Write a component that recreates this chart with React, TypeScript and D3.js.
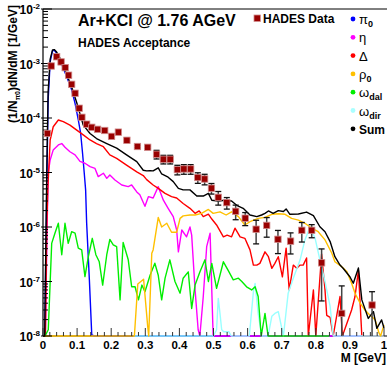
import React from 'react';
import * as d3 from 'd3';

const W = 387, H = 366;
const X0 = 43, X1 = 384, Y0 = 336, Y1 = 9;
const YMIN = 1e-8, YMAX = 1e-2;
const FONT = 'Liberation Sans, Arial, Helvetica, sans-serif';

// HADES data
const dataM = [0.013, 0.024, 0.040, 0.053, 0.065, 0.075, 0.084, 0.094, 0.106, 0.114, 0.128, 0.143, 0.160, 0.181, 0.201, 0.221, 0.246, 0.277, 0.307, 0.333, 0.353, 0.373, 0.394, 0.413, 0.433, 0.454, 0.474, 0.494, 0.514, 0.539, 0.565, 0.593, 0.625, 0.656, 0.689, 0.726, 0.759, 0.788, 0.817, 0.876, 0.965];
const dataV = [5.2e-5, 9.0e-4, 1.33e-3, 1.07e-3, 8.4e-4, 6.1e-4, 4.15e-4, 2.84e-4, 1.51e-4, 1.03e-4, 7.7e-5, 6.75e-5, 6.2e-5, 5.9e-5, 4.6e-5, 5.5e-5, 3.9e-5, 3.0e-5, 2.9e-5, 2.16e-5, 1.75e-5, 1.75e-5, 1.13e-5, 1.16e-5, 1.16e-5, 8.1e-6, 7.6e-6, 5.15e-6, 3.5e-6, 2.8e-6, 1.94e-6, 1.45e-6, 9.1e-7, 1.07e-6, 5.95e-7, 5.5e-7, 8.7e-7, 8.7e-7, 2.2e-7, 2.6e-8, 3.7e-8];
const dataE = [0, 0, 0, 0, 0, 0, 0, 0, 0, 0, 0, 0, 0, 0, 0, 0, 0, 1.5e-6, 1.45e-6, 3.9e-6, 3.15e-6, 3.15e-6, 2.26e-6, 2.32e-6, 2.32e-6, 1.78e-6, 1.67e-6, 1.13e-6, 9.8e-7, 6.7e-7, 5.8e-7, 3.9e-7, 4.2e-7, 4.2e-7, 2.7e-7, 2.3e-7, 3.4e-7, 2.35e-7, 1.76e-7, 5.7e-8, 2.8e-8];

// pi0
const pi0M = [0, 0.005, 0.011, 0.015, 0.021, 0.028, 0.033, 0.038, 0.050, 0.0695, 0.084, 0.094, 0.1035, 0.1105, 0.116, 0.121, 0.125, 0.128, 0.136, 0.143, 0.15, 1.0];
const pi0V = [0, 0, 4.8e-6, 2.1e-4, 1.07e-3, 1.72e-3, 1.75e-3, 1.6e-3, 1.16e-3, 5.7e-4, 3.3e-4, 1.86e-4, 9.2e-5, 5.2e-5, 2.25e-5, 9.7e-6, 4.8e-6, 1.18e-6, 1.07e-7, 1.05e-8, 0, 0];

// eta
const etaM = [0, 0.007, 0.012, 0.0155, 0.021, 0.030, 0.045, 0.055, 0.0645, 0.079, 0.094, 0.1085, 0.123, 0.138, 0.1525, 0.162, 0.177, 0.187, 0.196, 0.211, 0.231, 0.250, 0.260, 0.275, 0.284, 0.299, 0.309, 0.323, 0.338, 0.353, 0.367, 0.382, 0.392, 0.397, 0.407, 0.421, 0.431, 0.436, 0.446, 0.455, 0.460, 0.470, 0.480, 0.490, 0.499, 1.0];
const etaV = [0, 0, 1e-6, 1e-5, 1.7e-5, 2.6e-5, 3.2e-5, 3.4e-5, 2.9e-5, 2.4e-5, 2.1e-5, 1.6e-5, 1.48e-5, 1.28e-5, 1.19e-5, 8.4e-6, 9.7e-6, 7.8e-6, 9.0e-6, 7.3e-6, 5.9e-6, 5.5e-6, 5.9e-6, 4.4e-6, 3.9e-6, 2.4e-6, 3.6e-6, 3.4e-6, 5.5e-6, 3.1e-6, 2.2e-6, 1.55e-6, 8.8e-7, 3.5e-7, 8.8e-7, 6.6e-7, 1.0e-6, 7.1e-7, 7e-8, 1.3e-8, 0, 5.3e-8, 4.35e-7, 7.7e-7, 0, 0];

// Delta
const deltaM = [0, 0.007, 0.011, 0.014, 0.021, 0.030, 0.045, 0.0595, 0.079, 0.099, 0.118, 0.138, 0.157, 0.177, 0.196, 0.216, 0.245, 0.275, 0.294, 0.304, 0.323, 0.338, 0.358, 0.377, 0.392, 0.411, 0.431, 0.446, 0.458, 0.470, 0.485, 0.495, 0.509, 0.529, 0.540, 0.553, 0.563, 0.578, 0.592, 0.607, 0.617, 0.627, 0.636, 0.651, 0.661, 0.671, 0.680, 0.690, 0.702, 0.713, 0.722, 0.734, 0.744, 0.754, 0.763, 0.773, 0.778, 0.793, 0.800, 0.817, 0.827, 0.832, 0.842, 0.851, 0.871, 0.878, 0.891, 0.905, 0.915, 0.925, 0.935, 1.0];
const deltaV = [0, 0, 1e-6, 4.8e-6, 3.95e-5, 6.9e-5, 9.2e-5, 8.6e-5, 7.4e-5, 6.0e-5, 4.9e-5, 3.95e-5, 3.4e-5, 2.97e-5, 2.1e-5, 1.82e-5, 1.37e-5, 1.03e-5, 8.8e-6, 7.4e-6, 5.9e-6, 5.1e-6, 4.15e-6, 3.6e-6, 3.4e-6, 2.7e-6, 2.2e-6, 1.78e-6, 1.97e-6, 1.55e-6, 1.72e-6, 1.4e-6, 1.09e-6, 6.6e-7, 7.1e-7, 6.6e-7, 9.5e-7, 6.6e-7, 6.2e-7, 3.8e-7, 2.0e-7, 2.0e-7, 2.15e-7, 3.5e-7, 2.85e-7, 1.75e-7, 2.15e-7, 2.85e-7, 1.22e-7, 4.1e-7, 7e-8, 2.0e-7, 1.75e-7, 2.0e-7, 2.0e-7, 2.7e-7, 0, 7e-8, 0, 3.2e-7, 7e-8, 2.4e-8, 2.2e-8, 0, 5.3e-8, 0, 1.7e-8, 3.0e-8, 5.3e-8, 1.6e-7, 0, 0];

// rho0
const rhoM = [0, 0.268, 0.278, 0.295, 0.307, 0.310, 0.319, 0.323, 0.338, 0.348, 0.363, 0.377, 0.392, 0.402, 0.411, 0.431, 0.446, 0.465, 0.485, 0.499, 0.519, 0.537, 0.553, 0.573, 0.592, 0.607, 0.631, 0.651, 0.671, 0.690, 0.710, 0.729, 0.749, 0.768, 0.788, 0.807, 0.827, 0.847, 0.856, 0.876, 0.891, 0.905, 0.915, 0.930, 0.944, 0.959, 0.974, 0.985, 0.990, 1.0];
const rhoV = [0, 0, 9e-8, 1.1e-7, 1.5e-8, 0, 3.3e-7, 3.8e-7, 1.5e-6, 1.0e-6, 1.17e-6, 8e-7, 8e-7, 1.44e-6, 1.6e-6, 1.66e-6, 1.66e-6, 1.78e-6, 2.1e-6, 1.78e-6, 1.9e-6, 1.66e-6, 1.9e-6, 1.55e-6, 1.09e-6, 1.25e-6, 1.44e-6, 1.5e-6, 1.71e-6, 1.75e-6, 1.71e-6, 1.44e-6, 1.34e-6, 1.17e-6, 9.5e-7, 8.2e-7, 5.8e-7, 3.3e-7, 2.3e-7, 1.87e-7, 1.52e-7, 9.3e-8, 6.1e-8, 4e-8, 3.0e-8, 2.4e-8, 2.0e-8, 1.15e-8, 0, 1.6e-8];

// omega Dalitz
const omDalM = [0, 0.006, 0.0155, 0.0255, 0.035, 0.045, 0.055, 0.0645, 0.074, 0.084, 0.094, 0.1035, 0.1135, 0.123, 0.133, 0.1445, 0.155, 0.165, 0.175, 0.187, 0.196, 0.206, 0.216, 0.226, 0.235, 0.250, 0.260, 0.270, 0.280, 0.290, 0.299, 0.314, 0.328, 0.338, 0.348, 0.358, 0.372, 0.387, 0.402, 0.411, 0.426, 0.436, 0.446, 0.460, 0.475, 0.485, 0.495, 0.509, 0.529, 0.543, 0.558, 0.573, 0.583, 0.597, 0.612, 0.622, 0.631, 0.640, 0.651, 0.660, 0.840];
const omDalV = [0, 0, 1.3e-8, 5e-7, 7.7e-7, 1.17e-6, 3.1e-7, 1.17e-6, 5e-7, 8.2e-7, 7.7e-7, 4.1e-7, 3.8e-7, 1.23e-7, 2.85e-7, 6.2e-7, 3.1e-7, 2.3e-7, 8.6e-8, 3.1e-7, 5.9e-7, 4.7e-7, 4.35e-7, 4.6e-8, 5.2e-7, 2.5e-7, 8e-8, 8e-8, 4.6e-8, 8.6e-8, 6.5e-8, 1.3e-7, 2.16e-7, 1.3e-7, 4.6e-8, 1.15e-7, 2.5e-7, 1e-7, 6.1e-8, 1.15e-7, 1.5e-7, 3.2e-8, 8.6e-8, 1.5e-7, 2.5e-7, 1e-7, 2.15e-7, 7.5e-8, 2.3e-7, 1.6e-7, 1.07e-7, 1.15e-7, 1e-7, 8e-8, 7e-8, 8e-8, 5.3e-8, 0, 2.6e-8, 0, 0];

// omega direct
const omDirM = [0.265, 0.500, 0.509, 0.514, 0.519, 0.524, 0.530, 0.545, 0.552, 0.605, 0.617, 0.622, 0.631, 0.641, 0.660, 0.671, 0.680, 0.690, 0.705, 0.719, 0.734, 0.754, 0.768, 0.783, 0.798, 0.812, 0.827, 0.842, 0.851, 1.0];
const omDirV = [0, 0, 1.3e-8, 4.9e-8, 2.6e-8, 1.3e-8, 1.2e-8, 1.2e-8, 0, 0, 6.5e-8, 9.2e-8, 2.6e-8, 0, 0, 2.3e-8, 2.6e-8, 2.8e-8, 0, 6.1e-8, 1.15e-7, 2.5e-7, 5.8e-7, 1.0e-6, 6.2e-7, 2.5e-7, 1e-7, 3.5e-8, 0, 0];

// Sum
const sumM = [0, 0.005, 0.011, 0.015, 0.021, 0.028, 0.033, 0.040, 0.050, 0.0695, 0.084, 0.099, 0.118, 0.138, 0.157, 0.187, 0.216, 0.245, 0.275, 0.294, 0.304, 0.314, 0.323, 0.338, 0.348, 0.367, 0.382, 0.397, 0.411, 0.431, 0.451, 0.470, 0.485, 0.495, 0.514, 0.534, 0.553, 0.568, 0.587, 0.607, 0.627, 0.641, 0.651, 0.661, 0.675, 0.690, 0.705, 0.713, 0.724, 0.749, 0.773, 0.793, 0.812, 0.827, 0.842, 0.856, 0.871, 0.880, 0.900, 0.910, 0.925, 0.935, 0.954, 0.969, 0.979, 0.993, 1.0];
const sumV = [0, 0, 1e-5, 3e-4, 1.2e-3, 1.78e-3, 1.8e-3, 1.62e-3, 1.25e-3, 6.3e-4, 3.7e-4, 1.9e-4, 7.4e-5, 5.2e-5, 4.2e-5, 3.4e-5, 2.8e-5, 2.1e-5, 1.58e-5, 1.1e-5, 1.07e-5, 1.08e-5, 1.07e-5, 1.22e-5, 9.4e-6, 8.2e-6, 6.8e-6, 5.1e-6, 4.8e-6, 4.8e-6, 3.7e-6, 3.7e-6, 4.15e-6, 3.1e-6, 3.0e-6, 3.1e-6, 3.0e-6, 2.5e-6, 2.2e-6, 1.66e-6, 1.55e-6, 1.66e-6, 1.78e-6, 1.97e-6, 1.78e-6, 2.0e-6, 1.92e-6, 2.15e-6, 1.71e-6, 1.73e-6, 1.88e-6, 1.61e-6, 1.01e-6, 8.2e-7, 5.4e-7, 2.85e-7, 2.0e-7, 1.75e-7, 1.22e-7, 9.3e-8, 1.77e-7, 4.6e-8, 2.1e-8, 2.8e-8, 1.38e-8, 1.97e-8, 1.4e-8];

const xTickVals = [0, 0.1, 0.2, 0.3, 0.4, 0.5, 0.6, 0.7, 0.8, 0.9, 1];
const xTickLabels = ['0', '0.1', '0.2', '0.3', '0.4', '0.5', '0.6', '0.7', '0.8', '0.9', '1'];
const yDecades = [-8, -7, -6, -5, -4, -3, -2];

const legendItems = [
  { sym: 'π', sub: '0', color: '#0000ff' },
  { sym: 'η', sub: '', color: '#ff00ff' },
  { sym: 'Δ', sub: '', color: '#ff0000' },
  { sym: 'ρ', sub: '0', color: '#ffc000' },
  { sym: 'ω', sub: 'dal', color: '#00ee00' },
  { sym: 'ω', sub: 'dir', color: '#aaffff' },
  { sym: 'Sum', sub: '', color: '#000000' },
];

export default function App() {
  const x = d3.scaleLinear().domain([0, 1]).range([X0, X1]);
  const y = d3.scaleLog().domain([YMIN, YMAX]).range([Y0, Y1]).clamp(true);
  const line = d3.line<[number, number]>()
    .x(d => x(d[0]))
    .y(d => y(Math.max(d[1], YMIN)));
  const mk = (m: number[], v: number[]) => m.map((mm, i) => [mm, v[i]] as [number, number]);

  const series = [
    { m: pi0M, v: pi0V, color: '#0000ff' },
    { m: etaM, v: etaV, color: '#ff00ff' },
    { m: deltaM, v: deltaV, color: '#ff0000' },
    { m: omDirM, v: omDirV, color: '#99ffff' },
    { m: omDalM, v: omDalV, color: '#00ee00' },
    { m: rhoM, v: rhoV, color: '#ffc000' },
    { m: sumM, v: sumV, color: '#000000' },
  ];

  const minorX = d3.range(0, 51).map(i => i * 0.02).filter(v => Math.abs(v * 10 - Math.round(v * 10)) > 1e-6);
  const minorY: number[] = [];
  for (let e = -8; e < -2; e++) for (let k = 2; k <= 9; k++) minorY.push(k * Math.pow(10, e));

  return (
    <svg width={W} height={H} style={{ position: 'absolute', left: 0, top: 0, background: '#fff' }} fontFamily={FONT}>
      <defs>
        <clipPath id="plot">
          <rect x={X0} y={Y1} width={W - X0} height={Y0 - Y1 + 1.5} />
        </clipPath>
      </defs>
      <rect x={0} y={0} width={W} height={H} fill="#fff" />
      {/* frame */}
      <line x1={X0} x2={W} y1={Y1} y2={Y1} stroke="#000" strokeWidth={1} />
      <line x1={X0} x2={X0} y1={Y1} y2={Y0} stroke="#000" strokeWidth={1.2} />
      <line x1={X0} x2={W} y1={Y0} y2={Y0} stroke="#000" strokeWidth={1.2} />

      {/* curves */}
      <g clipPath="url(#plot)">
        {series.map((s, i) => (
          <path key={i} d={line(mk(s.m, s.v)) || ''} fill="none" stroke={s.color} strokeWidth={1.4} strokeLinejoin="round" />
        ))}
      </g>

      {/* ticks */}
      {xTickVals.map((v, i) => (
        <line key={'xt' + i} x1={x(v)} x2={x(v)} y1={Y0} y2={Y0 - 8} stroke="#333" strokeWidth={1} />
      ))}
      {minorX.map((v, i) => (
        <line key={'xm' + i} x1={x(v)} x2={x(v)} y1={Y0} y2={Y0 - 4} stroke="#333" strokeWidth={1} />
      ))}
      {yDecades.map((e, i) => (
        <line key={'yt' + i} x1={X0 - 2} x2={X0 + 9} y1={y(Math.pow(10, e))} y2={y(Math.pow(10, e))} stroke="#000" strokeWidth={1} />
      ))}
      {minorY.map((v, i) => (
        <line key={'ym' + i} x1={X0} x2={X0 + 5} y1={y(v)} y2={y(v)} stroke="#000" strokeWidth={1} />
      ))}

      {/* data error bars */}
      {dataM.map((m, i) => {
        if (!dataE[i]) return null;
        const hi = dataV[i] + dataE[i];
        const lo = dataV[i] - dataE[i];
        const yh = y(hi);
        const yl = lo > YMIN ? y(lo) : Y0;
        const cx = x(m);
        return (
          <g key={'e' + i}>
            <line x1={cx} x2={cx} y1={yh} y2={yl} stroke="#444" strokeWidth={1.5} />
            <line x1={cx - 3} x2={cx + 3} y1={yh} y2={yh} stroke="#111" strokeWidth={1.3} />
            {lo > YMIN && <line x1={cx - 3} x2={cx + 3} y1={yl} y2={yl} stroke="#111" strokeWidth={1.3} />}
          </g>
        );
      })}
      {/* data points */}
      {dataM.map((m, i) => (
        <rect key={'d' + i} x={x(m) - 3.2} y={y(dataV[i]) - 3.2} width={6.4} height={6.4} fill="#990000" stroke="#d08a8a" strokeWidth={0.8} />
      ))}

      {/* y tick labels */}
      {yDecades.map((e, i) => (
        <text key={'yl' + i} x={40} y={y(Math.pow(10, e)) + 5} textAnchor="end" fontSize={12} fontWeight="bold">
          10<tspan fontSize={8} dy={-5}>{e}</tspan>
        </text>
      ))}
      {/* x tick labels */}
      {xTickVals.map((v, i) => (
        <text key={'xl' + i} x={x(v)} y={349} textAnchor="middle" fontSize={11.5} fontWeight="bold">{xTickLabels[i]}</text>
      ))}

      {/* axis titles */}
      <text x={W - 1} y={362} textAnchor="end" fontSize={12} fontWeight="bold">M [GeV]</text>
      <text transform={`translate(17,${64}) rotate(-90)`} textAnchor="middle" fontSize={12} fontWeight="bold">
        (1/N<tspan fontSize={7} dy={3}>π0</tspan><tspan dy={-3}>)dN/dM [1/GeV]</tspan>
      </text>

      {/* titles */}
      <text x={78} y={26} fontSize={16} fontWeight="bold">Ar+KCl @ 1.76 AGeV</text>
      <text x={78} y={47} fontSize={12} fontWeight="bold">HADES Acceptance</text>

      {/* legend: data */}
      <rect x={254} y={15} width={6.4} height={6.4} fill="#990000" stroke="#d08a8a" strokeWidth={0.8} />
      <text x={263} y={23} fontSize={12} fontWeight="bold">HADES Data</text>

      {/* legend: models */}
      {legendItems.map((it, i) => {
        const cy = 19 + i * 18.3;
        return (
          <g key={'lg' + i}>
            <circle cx={353} cy={cy} r={2.4} fill={it.color} />
            <text x={359} y={cy + 5} fontSize={it.sym === 'Sum' ? 12 : 13} fontWeight={it.sym === 'Sum' ? 'bold' : 'normal'}>
              {it.sym}
              {it.sub && <tspan fontSize={9} fontWeight="bold" dy={3}>{it.sub}</tspan>}
            </text>
          </g>
        );
      })}
    </svg>
  );
}
